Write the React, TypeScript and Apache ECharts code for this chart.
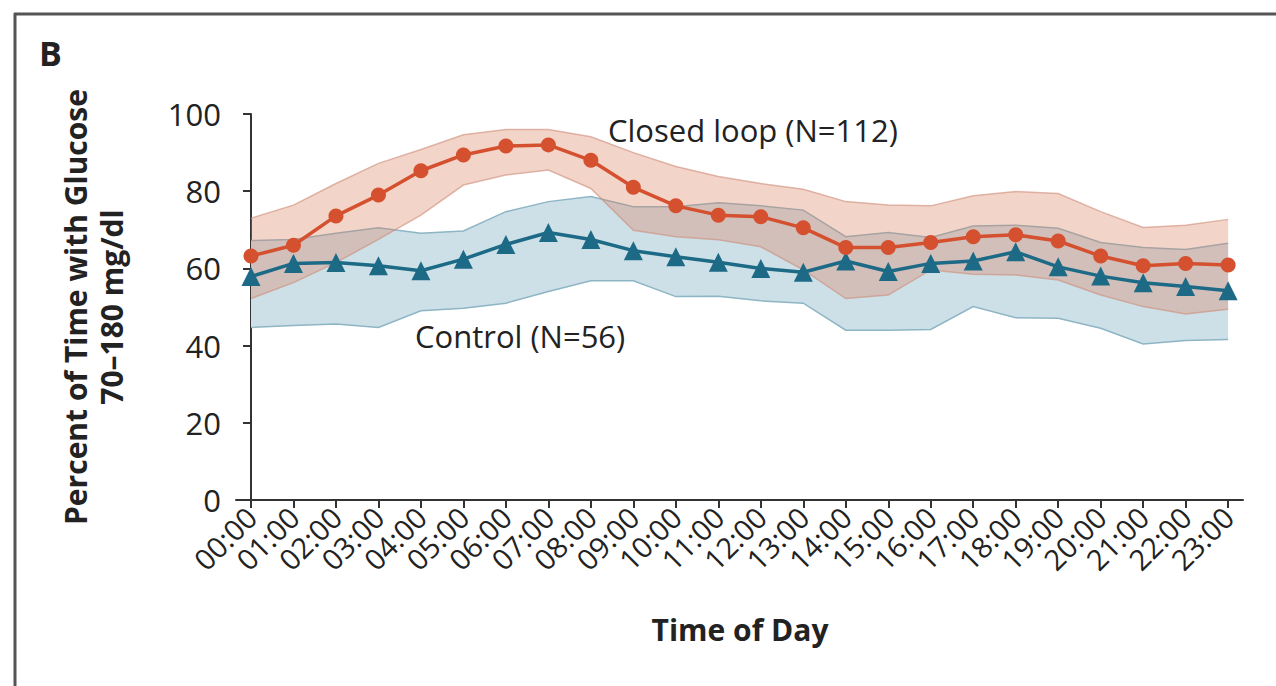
import React, { useEffect, useRef } from "react";
import * as echarts from "echarts";

const hours: string[] = [
  "00:00", "01:00", "02:00", "03:00", "04:00", "05:00", "06:00", "07:00",
  "08:00", "09:00", "10:00", "11:00", "12:00", "13:00", "14:00", "15:00",
  "16:00", "17:00", "18:00", "19:00", "20:00", "21:00", "22:00", "23:00",
];

const closedLoop: number[] = [
  63.2, 66.0, 73.6, 79.0, 85.3, 89.4, 91.7, 92.0, 88.0, 81.0, 76.2, 73.8,
  73.4, 70.5, 65.4, 65.4, 66.7, 68.2, 68.7, 67.1, 63.2, 60.7, 61.3, 60.9,
];
const closedLoopUpper: number[] = [
  73.0, 76.4, 82.0, 87.2, 90.8, 94.6, 96.0, 96.0, 94.1, 90.0, 86.4, 83.8,
  82.0, 80.5, 77.3, 76.4, 76.2, 78.8, 79.9, 79.4, 74.7, 70.6, 71.2, 72.7,
];
const closedLoopLower: number[] = [
  52.2, 56.3, 61.5, 67.5, 73.8, 81.6, 84.2, 85.5, 80.7, 69.9, 68.2, 67.4,
  65.6, 59.6, 52.2, 53.1, 59.6, 58.5, 58.3, 57.0, 53.1, 50.1, 48.2, 49.4,
];

const control: number[] = [
  57.9, 61.3, 61.5, 60.7, 59.4, 62.4, 66.2, 69.3, 67.5, 64.6, 63.0, 61.6,
  60.0, 59.0, 61.9, 59.2, 61.3, 61.9, 64.3, 60.4, 58.0, 56.3, 55.3, 54.2,
];
const controlUpper: number[] = [
  67.2, 67.5, 69.1, 70.5, 69.1, 69.7, 74.7, 77.3, 78.6, 76.0, 76.0, 77.0,
  76.2, 75.1, 68.2, 69.3, 68.0, 71.0, 71.2, 70.4, 66.7, 65.4, 64.9, 66.5,
];
const controlLower: number[] = [
  44.7, 45.2, 45.6, 44.7, 49.0, 49.7, 51.0, 54.0, 56.8, 56.8, 52.7, 52.8,
  51.6, 51.0, 44.0, 44.0, 44.2, 50.1, 47.2, 47.1, 44.5, 40.4, 41.3, 41.6,
];

const yTicks: number[] = [0, 20, 40, 60, 80, 100];

const FONT = "'Open Sans'";

function bandSeries(
  name: string,
  upper: number[],
  lower: number[],
  fill: string,
  edge: string,
  z: number
) {
  return {
    type: "custom",
    name,
    z,
    silent: true,
    data: [[0, upper[0], lower[0]]],
    encode: { x: 0, y: [1, 2] },
    renderItem: (_params: any, api: any) => {
      const up = upper.map((v, i) => api.coord([i, v]));
      const lo = lower.map((v, i) => api.coord([i, v]));
      const poly = up.concat(lo.slice().reverse());
      return {
        type: "group",
        children: [
          { type: "polygon", shape: { points: poly }, style: { fill, stroke: "none" } },
          { type: "polyline", shape: { points: up }, style: { stroke: edge, lineWidth: 1.5, fill: "none" } },
          { type: "polyline", shape: { points: lo }, style: { stroke: edge, lineWidth: 1.5, fill: "none" } },
        ],
      };
    },
  };
}

export default function App() {
  const ref = useRef<HTMLDivElement>(null);

  useEffect(() => {
    if (!ref.current) return;
    const chart = echarts.init(ref.current, null, { renderer: "svg" });
    const idx = hours.map((_, i) => i);
    const pts = (arr: number[]) => arr.map((v, i) => [i, v]);

    const option: any = {
      animation: false,
      backgroundColor: "#ffffff",
      textStyle: { fontFamily: FONT },
      grid: { left: 236, right: 33, top: 114, bottom: 186, containLabel: false },
      xAxis: {
        type: "value",
        min: -0.353,
        max: 23.35,
        splitLine: { show: false },
        axisLine: { show: true, onZero: false, lineStyle: { color: "#333", width: 2 } },
        axisTick: {
          show: true,
          customValues: idx,
          length: 8,
          lineStyle: { color: "#333", width: 2 },
        },
        axisLabel: {
          customValues: idx,
          rotate: 45,
          margin: 12,
          fontSize: 29,
          fontFamily: FONT,
          color: "#222",
          formatter: (v: number) => hours[Math.round(v)] ?? "",
        },
      },
      yAxis: {
        type: "value",
        min: 0,
        max: 100,
        interval: 20,
        splitLine: { show: false },
        axisLine: { show: true, lineStyle: { color: "#333", width: 2 } },
        axisTick: { show: true, length: 8, lineStyle: { color: "#333", width: 2 } },
        axisLabel: {
          margin: 15,
          fontSize: 31,
          fontFamily: FONT,
          color: "#222",
          formatter: (v: number) => (yTicks.includes(v) ? String(v) : ""),
        },
      },
      series: [
        bandSeries("controlBand", controlUpper, controlLower, "#cde0e8", "#8db5c4", 1),
        bandSeries("closedLoopBand", closedLoopUpper, closedLoopLower, "rgba(220,128,98,0.34)", "rgba(205,140,120,0.6)", 2),
        {
          type: "line",
          name: "Control (N=56)",
          data: pts(control),
          symbol: "triangle",
          symbolSize: 19,
          lineStyle: { color: "#1d6a86", width: 3.5 },
          itemStyle: { color: "#1d6a86" },
          z: 3,
        },
        {
          type: "line",
          name: "Closed loop (N=112)",
          data: pts(closedLoop),
          symbol: "circle",
          symbolSize: 15,
          lineStyle: { color: "#d4502f", width: 3.5 },
          itemStyle: { color: "#d4502f" },
          z: 4,
        },
      ],
      graphic: [
        { type: "line", shape: { x1: 14, y1: 14, x2: 1276, y2: 14 }, style: { stroke: "#555", lineWidth: 3 } },
        { type: "line", shape: { x1: 15, y1: 13, x2: 15, y2: 686 }, style: { stroke: "#555", lineWidth: 3 } },
        {
          type: "text",
          x: 39,
          y: 53,
          style: { text: "B", font: `bold 34px ${FONT}`, fill: "#222", verticalAlign: "middle" },
        },
        {
          type: "text",
          x: 75,
          y: 307,
          rotation: Math.PI / 2,
          style: {
            text: "Percent of Time with Glucose",
            font: `bold 30px ${FONT}`,
            fill: "#222",
            align: "center",
            verticalAlign: "middle",
          },
        },
        {
          type: "text",
          x: 111,
          y: 307,
          rotation: Math.PI / 2,
          style: {
            text: "70–180 mg/dl",
            font: `bold 30px ${FONT}`,
            fill: "#222",
            align: "center",
            verticalAlign: "middle",
          },
        },
        {
          type: "text",
          x: 740,
          y: 629,
          style: {
            text: "Time of Day",
            font: `bold 30px ${FONT}`,
            fill: "#222",
            align: "center",
            verticalAlign: "middle",
          },
        },
        {
          type: "text",
          x: 608,
          y: 130,
          style: {
            text: "Closed loop (N=112)",
            font: `31px ${FONT}`,
            fill: "#222",
            align: "left",
            verticalAlign: "middle",
          },
        },
        {
          type: "text",
          x: 415,
          y: 336,
          style: {
            text: "Control (N=56)",
            font: `31px ${FONT}`,
            fill: "#222",
            align: "left",
            verticalAlign: "middle",
          },
        },
      ],
    };

    chart.setOption(option);
    return () => chart.dispose();
  }, []);

  return (
    <div
      ref={ref}
      style={{ position: "fixed", left: 0, top: 0, width: 1276, height: 686 }}
    />
  );
}
